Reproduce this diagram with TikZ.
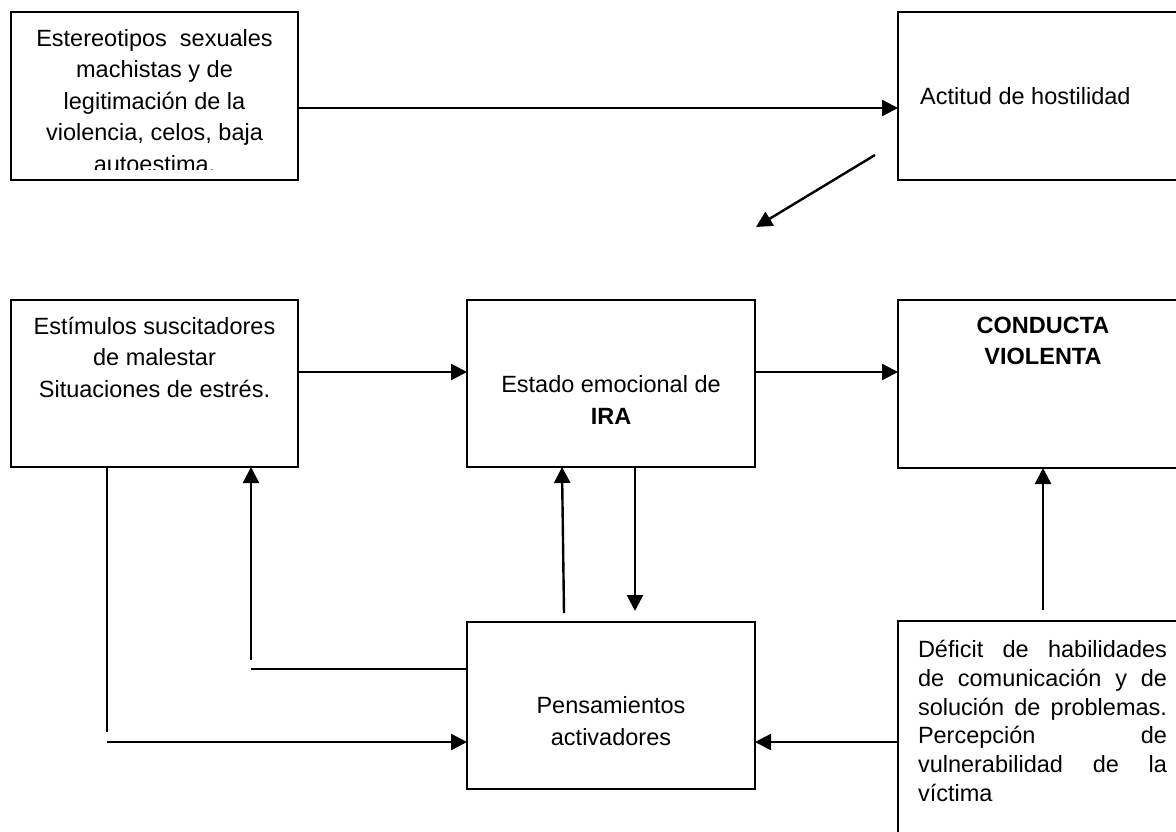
\documentclass[tikz,border=0pt]{standalone}
\usepackage{fontspec}
\setmainfont{Liberation Sans}
\usetikzlibrary{arrows.meta}
\begin{document}
\begin{tikzpicture}[x=1pt,y=-1pt,
  box/.style={draw, line width=2.2pt, inner sep=0pt, outer sep=0pt},
  arr/.style={line width=2.4pt, -{Triangle[length=16pt,width=16pt]}},
  ln/.style={line width=2.2pt},
  txt/.style={font=\fontsize{23.5}{31.5}\selectfont, align=center, inner sep=0pt}]
\useasboundingbox (0,0) rectangle (1176,831);
\clip (0,0) rectangle (1176,831);
\fill[white] (0,0) rectangle (1176,831);
% boxes
\node[box, minimum width=287pt, minimum height=168pt] (estereo) at (154.5,96) {};
\node[box, minimum width=290pt, minimum height=168pt] (actitud) at (1043,96) {};
\node[box, minimum width=287pt, minimum height=167pt] (estimulos) at (154.5,383.5) {};
\node[box, minimum width=288pt, minimum height=167pt] (ira) at (611,383.5) {};
\node[box, minimum width=290pt, minimum height=168pt] (conducta) at (1043,384) {};
\node[box, minimum width=288pt, minimum height=167pt] (pens) at (611,705.5) {};
\node[box, minimum width=290pt, minimum height=260pt] (deficit) at (1043,751) {};
% texts
\begin{scope}
\clip (12,13) rectangle (297,169);
\node[txt] (t1) at (154.5,101) {Estereotipos\ \ sexuales\\machistas y de\\legitimación de la\\violencia, celos, baja\\autoestima.};
\end{scope}
\node[txt, anchor=west] (t2) at (920,96) {Actitud de hostilidad};
\node[txt] (t3) at (154.5,357) {Estímulos suscitadores\\de malestar\\Situaciones de estrés.};
\node[txt] (t4) at (611,400) {Estado emocional de\\\textbf{IRA}};
\node[txt, font=\fontsize{23.5}{31.5}\selectfont\bfseries] (t5) at (1043,341) {CONDUCTA\\VIOLENTA};
\node[txt] (t6) at (611,721) {Pensamientos\\activadores};
\node[txt, font=\fontsize{23.5}{28.7}\selectfont, text width=249pt, align=justify] (t7) at (1042.5,721) {Déficit de habilidades\linebreak de comunicación y de\linebreak solución de problemas.\linebreak Percepción de\linebreak vulnerabilidad de la\linebreak víctima};
% connectors
\coordinate (r108) at (0,108);
\draw[arr] (estereo.east |- r108) -- (actitud.west |- r108);
\coordinate (d1) at (875,155);
\coordinate (d2) at (756,227);
\draw[arr] (d1) -- (d2);
\coordinate (r372) at (0,372);
\draw[arr] (estimulos.east |- r372) -- (ira.west |- r372);
\draw[arr] (ira.east |- r372) -- (conducta.west |- r372);
\coordinate (u1) at (564,613);
\draw[arr] (u1) -- ([xshift=-49pt]ira.south);
\coordinate (dn) at (635,611);
\draw[arr] (ira.south -| dn) -- (dn);
\coordinate (c1) at (1043,610);
\draw[arr] (c1) -- (conducta.south);
\coordinate (r742) at (0,742);
\draw[arr] (deficit.west |- r742) -- (pens.east |- r742);
\coordinate (v1) at (107,732);
\draw[ln] (estimulos.south -| v1) -- (v1);
\coordinate (h1) at (107,742);
\draw[arr] (h1) -- (pens.west |- h1);
\coordinate (h2) at (251,669);
\draw[ln] (pens.west |- h2) -- (h2);
\coordinate (v2) at (251,660);
\draw[arr] (v2) -- (estimulos.south -| v2);
\end{tikzpicture}
\end{document}
